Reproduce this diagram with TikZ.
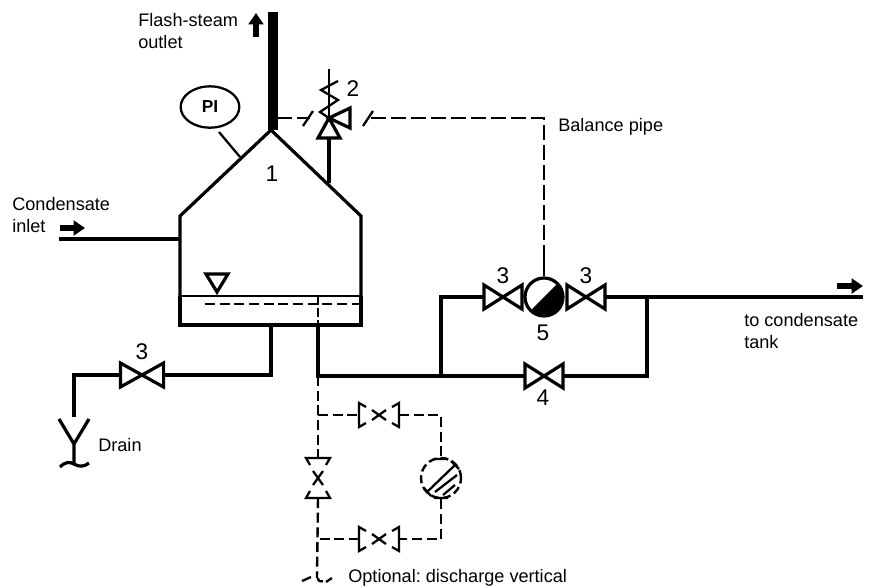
\documentclass[tikz,border=0pt]{standalone}
\usepackage{fontspec}
\setmainfont{Liberation Sans}
\usetikzlibrary{positioning,arrows.meta,shapes.geometric}
\newcommand{\FlashUnit}{0.75pt}

\tikzset{
	pipe/.style={line width=2.4pt},
	signal/.style={line width=1.8pt, dash pattern=on 11pt off 4pt},
	branch/.style={line width=1.8pt, dash pattern=on 7.5pt off 3.5pt},
	fine/.style={line width=1.7pt},
	flow/.style={line width=4.4pt, -{Triangle[length=8.5pt,width=11pt]}},
	caption/.style={align=left, inner sep=0pt, font=\fontsize{13.6}{16.6}\selectfont\frenchspacing},
	numlabel/.style={inner sep=0pt, font=\fontsize{17}{17}\selectfont},
	pics/valve/.style={code={
		\coordinate (-c) at (0,0);
		\coordinate (-w) at (-20,0);
		\coordinate (-e) at (20,0);
		\draw[pipe, line join=miter] (0,0) -- (-20,-12) -- (-20,12) -- cycle;
		\draw[pipe, line join=miter] (0,0) -- (20,-12) -- (20,12) -- cycle;
	}},
	pics/dashvalve/.style={code={
		\coordinate (-c) at (0,0);
		\coordinate (-w) at (-20,0);
		\coordinate (-e) at (20,0);
		\draw[fine] (-7,-5) -- (7,5) (-7,5) -- (7,-5);
		\draw[fine] (-13,-8) -- (-20,-12) -- (-20,12) -- (-13,8);
		\draw[fine] (13,-8) -- (20,-12) -- (20,12) -- (13,8);
	}},
	pics/reliefvalve/.style={code={
		\coordinate (-c) at (0,0);
		\coordinate (-s) at (0,20);
		\draw[pipe, line join=miter] (0,0) -- (-11,20) -- (11,20) -- cycle;
		\draw[pipe, line join=miter] (0,0) -- (21,-10) -- (21,10) -- cycle;
		\draw[fine] (0,0) -- (0,-49);
		\draw[fine] (0,0) -- (-9,-6) -- (9,-18) -- (-8,-28) -- (9,-37);
	}},
}

\begin{document}
\begin{tikzpicture}[x=\FlashUnit, y=-\FlashUnit]
	\useasboundingbox (0,0) rectangle (877,587);
	\coordinate (apex) at (271,130);
	\coordinate (stacktop) at (273,12);
	\coordinate (stackbase) at (273,130);
	\coordinate (rooftl) at (180,216);
	\coordinate (rooftr) at (361,216);
	\coordinate (bottoml) at (180,325);
	\coordinate (bottomr) at (361,325);
	\coordinate (levell) at (180,296);
	\coordinate (levelr) at (361,296);
	\coordinate (inlet) at (59,239);
	\coordinate (inletwall) at (180,239);
	\coordinate (pitap) at (219,132);
	\coordinate (pifoot) at (240,157);
	\coordinate (rvfoot) at (329,183);
	\coordinate (drainout) at (271,325);
	\coordinate (drainbend) at (271,375);
	\coordinate (drainturn) at (74,375);
	\coordinate (drainend) at (74,417);
	\coordinate (mainout) at (318,325);
	\coordinate (mainbend) at (318,376);
	\coordinate (bypassl) at (441,376);
	\coordinate (bypasslt) at (441,297);
	\coordinate (bypassr) at (647,376);
	\coordinate (bypassrt) at (647,297);
	\coordinate (outlet) at (863,297);
	\coordinate (brtop) at (318,415);
	\coordinate (brbot) at (317,539);
	\coordinate (brtr) at (441,415);
	\coordinate (brbr) at (441,539);
	\coordinate (brend) at (317,578);
	\coordinate (balstub) at (544,260);
	\coordinate (balbend) at (544,118);
	\coordinate (balend) at (367,118);
	\coordinate (taptick) at (310,118);
	\coordinate (tapstart) at (277,118);

	\node[draw, ellipse, fine, minimum width=44pt, minimum height=31pt, inner sep=0pt, font=\fontsize{13}{13}\selectfont\bfseries] (pi) at (210,107) {PI};
	\node[draw, circle, pipe, minimum size=28.5pt, inner sep=0pt, path picture={\fill (path picture bounding box.south west) -- (path picture bounding box.north east) -- (path picture bounding box.south east) -- cycle;}] (pump) at (544,297) {};
	\node[draw, circle, branch, dash pattern=on 6pt off 3pt, minimum size=30pt, inner sep=0pt] (filter) at (441,478) {};

	\pic[xscale=1.08] (drainvalve) at (142,375) {valve};
	\pic[xscale=0.95] (pumpvalvel) at (503,297) {valve};
	\pic[xscale=0.95] (pumpvalver) at (586,297) {valve};
	\pic[xscale=0.95] (mainvalve) at (544,376) {valve};
	\pic (reliefvalve) at (329,118) {reliefvalve};
	\pic (topvalve) at (379,415) {dashvalve};
	\pic (botvalve) at (379,539) {dashvalve};
	\pic[rotate=-90] (vertvalve) at (318,478) {dashvalve};

	% vessel
	\draw[line width=7.5pt] (stacktop) -- (stackbase);
	\draw[pipe] (levell) -- (rooftl) -- (apex) -- (rooftr) -- (levelr);
	\draw[pipe] (levell) -- (bottoml) -- (bottomr) -- (levelr);
	\draw[fine] (levell) -- (levelr);
	\draw[pipe, line join=miter] (206,274) -- (228,274) -- (217,292) -- cycle;
	\draw[branch] (205,304) -- (361,304);
	\draw[fine, dash pattern=on 7pt off 2pt] (318,296) -- (mainout);
	\draw[pipe] (inlet) -- (inletwall);
	\draw[fine] (pitap) -- (pifoot);
	\draw[pipe] (reliefvalve-s) -- (rvfoot);

	% drain
	\draw[pipe] (drainout) -- (drainbend) -- (drainvalve-e);
	\draw[pipe] (drainvalve-w) -- (drainturn) -- (drainend);
	\draw[pipe] (59,419) -- (74,444) -- (89,419) (74,444) -- (74,465);
	\draw[pipe] (60,467) .. controls (66,461) and (70,462) .. (74,464) .. controls (79,467) and (84,467) .. (89,463);

	% condensate line
	\draw[pipe] (mainout) -- (mainbend) -- (mainvalve-w);
	\draw[pipe] (mainvalve-e) -- (bypassr) -- (bypassrt);
	\draw[pipe] (bypassl) -- (bypasslt) -- (pumpvalvel-w);
	\draw[pipe] (pumpvalver-e) -- (outlet);

	% balance pipe
	\draw[fine] (pump) -- (balstub);
	\draw[signal] (balstub) -- (balbend) -- (balend);
	\draw[signal] (tapstart) -- (taptick);
	\draw[fine] (303,126) -- (313,111) (363,126) -- (373,111);

	% optional discharge
	\draw[branch] (mainbend) -- (vertvalve-w);
	\draw[branch] (vertvalve-e) -- (brend);
	\draw[branch] (brtop) -- (topvalve-w);
	\draw[branch] (topvalve-e) -- (brtr) -- (filter);
	\draw[branch] (filter) -- (brbr) -- (botvalve-e);
	\draw[branch] (botvalve-w) -- (brbot);
	\draw[fine] (427,492) -- (455,465) (435,492) -- (457,475) (443,495) -- (455,485);
	\draw[fine] (424,488) -- (431,496) (451,461) -- (459,469) (434,459) -- (448,459) (434,498) -- (448,498);
	\draw[fine] (302,581) -- (311,577) (318,578) .. controls (318,581) and (320,582) .. (323,581) (326,582) -- (332,578);

	% arrows
	\coordinate (stackarrowa) at (256,37);
	\coordinate (stackarrowb) at (256,13);
	\coordinate (inletarrowa) at (60,228);
	\coordinate (inletarrowb) at (85,228);
	\coordinate (outarrowa) at (837,286);
	\coordinate (outarrowb) at (863,286);
	\draw[flow] (stackarrowa) -- (stackarrowb);
	\draw[flow] (inletarrowa) -- (inletarrowb);
	\draw[flow] (outarrowa) -- (outarrowb);

	% labels
	\node[caption, anchor=north west] (flashtext) at (138,13) {Flash-steam\\outlet};
	\node[caption, anchor=north west] (inlettext) at (12,197) {Condensate\\inlet};
	\node[caption, anchor=base west] (baltext) at (558,131) {Balance pipe};
	\node[caption, anchor=north west] (tanktext) at (744,313) {to condensate\\tank};
	\node[caption, anchor=base west] (draintext) at (98,451) {Drain};
	\node[caption, anchor=base west] (opttext) at (348,582) {Optional: discharge vertical};
	\node[numlabel] (num1) at (272,174) {1};
	\node[numlabel] (num2) at (353,89) {2};
	\node[numlabel, above=11pt of drainvalve-c] (num3a) {3};
	\node[numlabel, above=10pt of pumpvalvel-c] (num3b) {3};
	\node[numlabel, above=10pt of pumpvalver-c] (num3c) {3};
	\node[numlabel] (num5) at (543,333) {5};
	\node[numlabel] (num4) at (543,398) {4};
\end{tikzpicture}
\end{document}
